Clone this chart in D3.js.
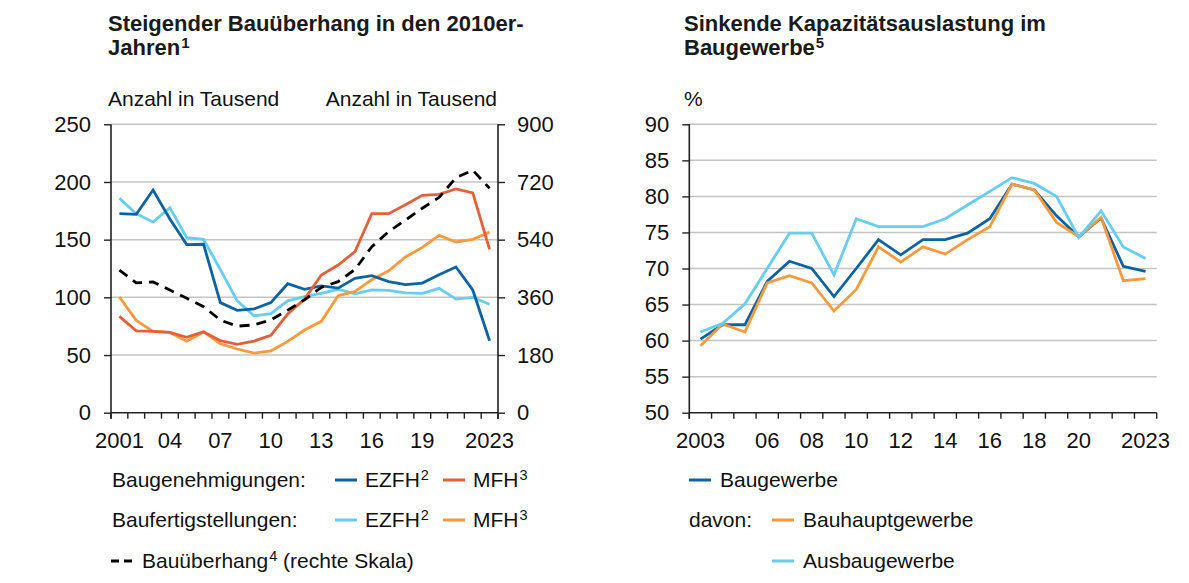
<!DOCTYPE html>
<html>
<head>
<meta charset="utf-8">
<script src="https://cdn.jsdelivr.net/npm/d3@7"></script>
<style>
  body { margin: 0; background: #ffffff; }
  svg { font-family: "Liberation Sans", Arial, sans-serif; }
</style>
</head>
<body>
<div id="myDiv"></div>
<script>
//--------------------------------------------------
// Data
//--------------------------------------------------

// Left chart: Baugenehmigungen, Baufertigstellungen (Tsd.), Bauueberhang (right scale)
var yearsLeft = [2001, 2002, 2003, 2004, 2005, 2006, 2007, 2008, 2009, 2010, 2011, 2012,
                 2013, 2014, 2015, 2016, 2017, 2018, 2019, 2020, 2021, 2022, 2023];
var genEZFH = [172.5, 172, 193, 168, 145.7, 146, 95.4, 88.7, 90, 95.4, 111.8, 107,
               110, 108, 116.5, 118.8, 113.6, 111, 112.4, 119.6, 126.3, 106.4, 62.4];
var genMFH  = [83.5, 71, 70.5, 69.6, 65.3, 70.2, 62.4, 59.2, 62.1, 67, 85.5, 98.5,
               119.4, 128, 139.6, 172.5, 172.5, 180.3, 188.4, 189.3, 194, 190.5, 141.6];
var fertEZFH = [185.8, 172.5, 165.3, 177.7, 151.7, 150.3, 124, 97, 84, 85.8, 97, 100.6,
                103.5, 107, 103, 106.4, 106, 103.8, 103.5, 107.8, 98.5, 100, 94];
var fertMFH  = [100.3, 80, 70.5, 69.6, 62, 70, 59.8, 55.2, 51.7, 53.5, 61.8, 71.7,
                79.2, 101.4, 105.2, 115.3, 123, 135, 143.3, 153.7, 148, 150.3, 156.6];
var ueberhang = [445, 405, 408, 383, 357, 331, 289, 270, 274, 289, 320, 352,
                 391, 409, 447, 518, 565, 601, 638, 672, 733, 757, 700];
var leftTicks = [0, 50, 100, 150, 200, 250];
var rightTicks = [0, 180, 360, 540, 720, 900];
var leftXLabels = [2001, 2004, 2007, 2010, 2013, 2016, 2019, 2023];

// Right chart: Kapazitaetsauslastung (%)
var yearsRight = [2003, 2004, 2005, 2006, 2007, 2008, 2009, 2010, 2011, 2012, 2013,
                  2014, 2015, 2016, 2017, 2018, 2019, 2020, 2021, 2022, 2023];
var baugewerbe = [60.2, 62.2, 62.2, 68.2, 71.0, 70.0, 66.1, 70.0, 74.0, 71.9, 74.0,
                  74.0, 74.9, 76.9, 81.7, 80.9, 77.3, 74.4, 77.0, 70.3, 69.6];
var bauhaupt   = [59.3, 62.3, 61.2, 68.0, 69.0, 68.0, 64.1, 67.1, 73.0, 70.9, 73.0,
                  72.0, 74.0, 75.8, 81.7, 80.9, 76.4, 74.4, 77.1, 68.3, 68.6];
var ausbau     = [61.2, 62.4, 65.1, 70.0, 74.9, 74.9, 69.1, 76.9, 75.8, 75.8, 75.8,
                  76.9, 78.8, 80.7, 82.6, 81.8, 80.0, 74.3, 78.0, 73.0, 71.4];
var pctTicks = [50, 55, 60, 65, 70, 75, 80, 85, 90];
var rightXLabels = [2003, 2006, 2008, 2010, 2012, 2014, 2016, 2018, 2020, 2023];

//--------------------------------------------------
// Style
//--------------------------------------------------
var colDark = '#0b63a3';
var colRed = '#e5603a';
var colLight = '#66cdf3';
var colOrange = '#fb9a3c';
var gridColor = '#c4c4c4';
var axisColor = '#222222';
var fontSize = 21;
var tickFontSize = 22;
var lineWidth = 2.8;

var plotTop = 124.3, plotBottom = 412.7;

var svg = d3.select('#myDiv').append('svg')
  .attr('width', 1189)
  .attr('height', 583);

function yearLabel(first, last) {
  return function(d) {
    if (d === first || d === last) return String(d);
    return String(d).slice(2);
  };
}

function drawSeries(g, x, y, years, values, color, dash) {
  var line = d3.line()
    .x(function(d, i) { return x(years[i]) + x.bandwidth() / 2; })
    .y(function(d) { return y(d); });
  g.append('path')
    .datum(values)
    .attr('fill', 'none')
    .attr('stroke', color)
    .attr('stroke-width', lineWidth)
    .attr('stroke-linejoin', 'miter')
    .attr('stroke-dasharray', dash || null)
    .attr('d', line);
}

function drawXAxis(g, x, years, labels) {
  var r = x.range();
  // band boundary ticks
  var edges = years.map(function(d) { return x(d); }).concat([r[1]]);
  g.append('g').selectAll('line')
    .data(edges)
    .enter().append('line')
      .attr('x1', function(d) { return d; })
      .attr('x2', function(d) { return d; })
      .attr('y1', plotBottom)
      .attr('y2', plotBottom + 6)
      .attr('stroke', axisColor)
      .attr('stroke-width', 1.4);
  g.append('line')
    .attr('x1', r[0]).attr('x2', r[1])
    .attr('y1', plotBottom).attr('y2', plotBottom)
    .attr('stroke', axisColor)
    .attr('stroke-width', 1.6);

  var ax = g.append('g')
    .attr('transform', 'translate(0,' + plotBottom + ')')
    .call(d3.axisBottom(x)
      .tickValues(labels)
      .tickSize(0)
      .tickPadding(19.5)
      .tickFormat(yearLabel(labels[0], labels[labels.length - 1])));
  ax.select('.domain').remove();
  ax.selectAll('text')
    .style('font-size', tickFontSize + 'px')
    .style('font-family', '"Liberation Sans", Arial, sans-serif')
    .attr('fill', '#111111');
}

function styleYAxis(ax) {
  ax.select('.domain').remove();
  ax.selectAll('.tick line').attr('stroke', axisColor).attr('stroke-width', 1.4);
  ax.selectAll('text')
    .style('font-size', tickFontSize + 'px')
    .style('font-family', '"Liberation Sans", Arial, sans-serif')
    .attr('fill', '#111111');
}

function drawGrid(g, y, ticks, x0, x1) {
  g.append('g').selectAll('line')
    .data(ticks.filter(function(d, i) { return i > 0; }))
    .enter().append('line')
      .attr('x1', x0).attr('x2', x1)
      .attr('y1', function(d) { return y(d); })
      .attr('y2', function(d) { return y(d); })
      .attr('stroke', gridColor)
      .attr('stroke-width', 1.5);
}

function drawTitle(x, line1, line2, sup) {
  var t = svg.append('text')
    .attr('x', x).attr('y', 31)
    .style('font-size', '22px')
    .style('font-weight', 'bold')
    .attr('fill', '#1a1a1a');
  t.append('tspan').text(line1);
  var t2 = svg.append('text')
    .attr('x', x).attr('y', 55)
    .style('font-size', '22px')
    .style('font-weight', 'bold')
    .attr('fill', '#1a1a1a');
  t2.append('tspan').text(line2);
  t2.append('tspan').text(sup)
    .attr('dx', 1)
    .attr('dy', -7)
    .style('font-size', '15px');
}

function drawLeftChart() {
  var g = svg.append('g');
  var x = d3.scaleBand().domain(yearsLeft).range([111, 498]);
  var y = d3.scaleLinear().domain([0, 250]).range([plotBottom, plotTop]);
  var y2 = d3.scaleLinear().domain([0, 900]).range([plotBottom, plotTop]);

  drawTitle(108, 'Steigender Bauüberhang in den 2010er-', 'Jahren', '1');

  g.append('text').attr('x', 108).attr('y', 106)
    .style('font-size', fontSize + 'px').attr('fill', '#111111')
    .text('Anzahl in Tausend');
  g.append('text').attr('x', 497).attr('y', 106)
    .attr('text-anchor', 'end')
    .style('font-size', fontSize + 'px').attr('fill', '#111111')
    .text('Anzahl in Tausend');

  drawGrid(g, y, leftTicks, 111, 498);

  // y axes
  styleYAxis(g.append('g').attr('transform', 'translate(111,0)')
    .call(d3.axisLeft(y).tickValues(leftTicks).tickSize(7).tickPadding(13)));
  styleYAxis(g.append('g').attr('transform', 'translate(498,0)')
    .call(d3.axisRight(y2).tickValues(rightTicks).tickSize(7).tickPadding(12)));
  [111, 498].forEach(function(xx) {
    g.append('line')
      .attr('x1', xx).attr('x2', xx)
      .attr('y1', plotTop).attr('y2', plotBottom + 6)
      .attr('stroke', axisColor).attr('stroke-width', 1.6);
  });

  drawXAxis(g, x, yearsLeft, leftXLabels);

  drawSeries(g, x, y, yearsLeft, fertEZFH, colLight);
  drawSeries(g, x, y, yearsLeft, fertMFH, colOrange);
  drawSeries(g, x, y, yearsLeft, genEZFH, colDark);
  drawSeries(g, x, y, yearsLeft, genMFH, colRed);
  drawSeries(g, x, y2, yearsLeft, ueberhang, '#000000', '10,7');
}

function drawRightChart() {
  var g = svg.append('g');
  var x = d3.scaleBand().domain(yearsRight).range([689.3, 1156.7]);
  var y = d3.scaleLinear().domain([50, 90]).range([plotBottom, plotTop]);

  drawTitle(684, 'Sinkende Kapazitätsauslastung im', 'Baugewerbe', '5');

  g.append('text').attr('x', 684).attr('y', 106)
    .style('font-size', fontSize + 'px').attr('fill', '#111111')
    .text('%');

  drawGrid(g, y, pctTicks, 689.3, 1156.7);

  styleYAxis(g.append('g').attr('transform', 'translate(689.3,0)')
    .call(d3.axisLeft(y).tickValues(pctTicks).tickSize(7).tickPadding(13)));
  g.append('line')
    .attr('x1', 689.3).attr('x2', 689.3)
    .attr('y1', plotTop).attr('y2', plotBottom + 6)
    .attr('stroke', axisColor).attr('stroke-width', 1.6);

  drawXAxis(g, x, yearsRight, rightXLabels);

  drawSeries(g, x, y, yearsRight, baugewerbe, colDark);
  drawSeries(g, x, y, yearsRight, bauhaupt, colOrange);
  drawSeries(g, x, y, yearsRight, ausbau, colLight);
}

function legendText(x, y, label, sup, rest) {
  var t = svg.append('text')
    .attr('x', x).attr('y', y)
    .style('font-size', fontSize + 'px')
    .attr('fill', '#111111');
  t.append('tspan').text(label);
  if (sup) {
    t.append('tspan').text(sup).attr('dx', 1).attr('dy', -7).style('font-size', '14.5px');
    if (rest) {
      t.append('tspan').text(rest).attr('dy', 7).style('font-size', fontSize + 'px');
    }
  }
}

function legendChip(x, y, color, dash) {
  svg.append('line')
    .attr('x1', x).attr('x2', x + 22)
    .attr('y1', y).attr('y2', y)
    .attr('stroke', color)
    .attr('stroke-width', 3)
    .attr('stroke-dasharray', dash || null);
}

function drawLegends() {
  // left
  legendText(112, 487, 'Baugenehmigungen:');
  legendChip(335, 480, colDark);
  legendText(365, 487, 'EZFH', '2');
  legendChip(443, 480, colRed);
  legendText(473, 487, 'MFH', '3');

  legendText(112, 527, 'Baufertigstellungen:');
  legendChip(335, 520, colLight);
  legendText(365, 527, 'EZFH', '2');
  legendChip(443, 520, colOrange);
  legendText(473, 527, 'MFH', '3');

  legendChip(111, 561, '#000000', '8,5');
  legendText(142, 568, 'Bauüberhang', '4', ' (rechte Skala)');

  // right
  legendChip(689, 480, colDark);
  legendText(720, 487, 'Baugewerbe');
  legendText(689, 527, 'davon:');
  legendChip(772, 520, colOrange);
  legendText(803, 527, 'Bauhauptgewerbe');
  legendChip(772, 561, colLight);
  legendText(803, 568, 'Ausbaugewerbe');
}

drawLeftChart();
drawRightChart();
drawLegends();
</script>
</body>
</html>
